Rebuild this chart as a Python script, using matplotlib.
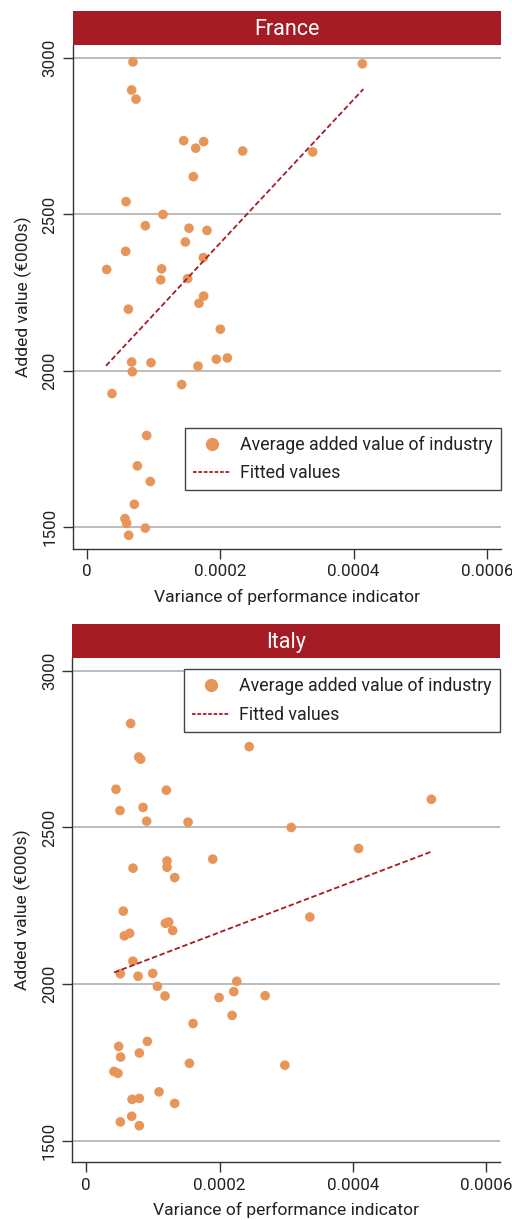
import numpy as np
import matplotlib
matplotlib.use("Agg")
import matplotlib.pyplot as plt
from matplotlib.lines import Line2D

# ===================
# Datos
# ===================

france_x = [6.9e-5, 6.7e-5, 7.35e-5, 1.45e-4, 1.75e-4, 1.63e-4, 2.335e-4, 3.385e-4,
            4.13e-4, 1.595e-4, 5.85e-5, 1.14e-4, 8.75e-5, 1.53e-4, 1.8e-4, 1.475e-4,
            5.8e-5, 1.745e-4, 2.95e-5, 1.12e-4, 1.105e-4, 1.51e-4, 1.75e-4, 1.68e-4,
            6.2e-5, 2.0e-4, 6.7e-5, 9.6e-5, 6.8e-5, 1.665e-4, 1.94e-4, 2.105e-4,
            1.42e-4, 3.75e-5, 8.95e-5, 7.55e-5, 9.5e-5, 7.1e-5, 5.7e-5, 5.95e-5,
            8.75e-5, 6.25e-5]
france_y = [2988, 2898, 2869, 2736, 2733, 2712, 2703, 2700,
            2982, 2621, 2541, 2500, 2464, 2456, 2449, 2412,
            2382, 2362, 2324, 2326, 2291, 2295, 2239, 2216,
            2197, 2133, 2028, 2026, 1997, 2015, 2037, 2041,
            1956, 1927, 1793, 1696, 1646, 1573, 1527, 1512,
            1497, 1474]
france_fit_x = [2.85e-5, 4.145e-4]
france_fit_y = [2016, 2901]

italy_x = [6.66e-5, 7.86e-5, 8.16e-5, 2.445e-4, 4.46e-5, 1.202e-4, 5.06e-5, 8.52e-5,
           9.06e-5, 1.528e-4, 3.076e-4, 5.18e-4, 4.087e-4, 1.898e-4, 1.212e-4, 1.212e-4,
           7.02e-5, 1.327e-4, 5.56e-5, 3.356e-4, 1.187e-4, 1.237e-4, 1.297e-4, 5.71e-5,
           6.51e-5, 7.0e-5, 5.11e-5, 7.77e-5, 9.97e-5, 1.067e-4, 1.182e-4, 2.259e-4,
           2.214e-4, 1.993e-4, 2.685e-4, 2.189e-4, 1.603e-4, 9.17e-5, 4.86e-5, 5.16e-5,
           7.96e-5, 1.548e-4, 2.98e-4, 4.16e-5, 4.76e-5, 1.092e-4, 1.327e-4, 6.87e-5,
           7.96e-5, 6.81e-5, 5.11e-5, 7.96e-5]
italy_y = [2832, 2725, 2718, 2758, 2622, 2619, 2554, 2564,
           2520, 2517, 2500, 2590, 2433, 2399, 2393, 2373,
           2370, 2340, 2233, 2214, 2194, 2198, 2171, 2154,
           2162, 2073, 2033, 2025, 2034, 1993, 1962, 2009,
           1976, 1957, 1963, 1900, 1874, 1817, 1801, 1767,
           1780, 1747, 1741, 1721, 1715, 1656, 1619, 1632,
           1635, 1578, 1560, 1548]
italy_fit_x = [4.16e-5, 5.195e-4]
italy_fit_y = [2037, 2424]

X_TICKS = [0, 0.0002, 0.0004, 0.0006]
X_TICK_LABELS = ["0", "0.0002", "0.0004", "0.0006"]
Y_TICKS = [1500, 2000, 2500, 3000]

# Estilo
DOT_COLOR = "#E8955A"
RED = "#A51C24"
TEXT_COLOR = "#222222"
GRID_COLOR = "#AAAAAA"

plt.rcParams["font.family"] = ["Roboto", "DejaVu Sans"]

W, H = 512, 1220
fig = plt.figure(figsize=(W / 100, H / 100), dpi=100)


def panel(left, right, top, bottom, bar_top, title, xs, ys, fx, fy, legend_anchor):
    ax = fig.add_axes([left / W, 1 - bottom / H, (right - left) / W, (bottom - top) / H])
    bar = fig.add_axes([left / W, 1 - top / H, (right - left) / W, (top - bar_top) / H])
    bar.set_facecolor(RED)
    bar.set_xticks([])
    bar.set_yticks([])
    for s in bar.spines.values():
        s.set_visible(False)
    bar.text(0.5, 0.45, title, color="white", fontsize=15.5, ha="center", va="center",
             transform=bar.transAxes)

    ax.scatter(xs, ys, s=48, color=DOT_COLOR, edgecolors="none", zorder=3,
               label="Average added value of industry")
    ax.plot(fx, fy, color=RED, linestyle=(0, (3, 1.5)), linewidth=1.3, zorder=4,
            label="Fitted values")

    ax.set_xlim(-0.000021, 0.000621)
    ax.set_ylim(1431, 3042)
    ax.set_xticks(X_TICKS)
    ax.set_xticklabels(X_TICK_LABELS)
    ax.set_yticks(Y_TICKS)
    ax.set_yticklabels([str(v) for v in Y_TICKS], rotation=90, va="center")
    ax.grid(axis="y", color=GRID_COLOR, linewidth=1.1)
    ax.set_axisbelow(True)
    for side in ["top", "right"]:
        ax.spines[side].set_visible(False)
    for side in ["left", "bottom"]:
        ax.spines[side].set_color("#333333")
        ax.spines[side].set_linewidth(1.0)
    ax.tick_params(colors="#333333", labelcolor=TEXT_COLOR, labelsize=12.2, length=7,
                   width=1.0, pad=4)
    ax.set_xlabel("Variance of performance indicator", fontsize=12.6, color=TEXT_COLOR,
                  labelpad=7)
    ax.set_ylabel("Added value (€000s)", fontsize=12.6, color=TEXT_COLOR, labelpad=8)

    handles = [
        Line2D([], [], marker="o", linestyle="none", color=DOT_COLOR, markersize=8.5),
        Line2D([], [], color=RED, linestyle=(0, (2, 1)), linewidth=1.3),
    ]
    leg = ax.legend(handles, ["Average added value of industry", "Fitted values"],
                    loc="upper right", bbox_to_anchor=legend_anchor, fontsize=12.8,
                    frameon=True, fancybox=False, edgecolor="#444444",
                    framealpha=1, borderpad=0.45, labelspacing=0.6, borderaxespad=0,
                    handlelength=2.1, handletextpad=0.55, labelcolor=TEXT_COLOR)
    leg.get_frame().set_linewidth(1.0)
    return ax


# France
panel(73, 501, 45, 548.7, 11, "France", france_x, france_y, france_fit_x, france_fit_y,
      (1.0, (548.7 - 427.7) / (548.7 - 45)))
# Italy
panel(72.3, 500, 657.7, 1162.3, 624, "Italy", italy_x, italy_y, italy_fit_x, italy_fit_y,
      (1.0, (1162.3 - 669) / (1162.3 - 657.7)))

fig.savefig("out.png", dpi=100)
